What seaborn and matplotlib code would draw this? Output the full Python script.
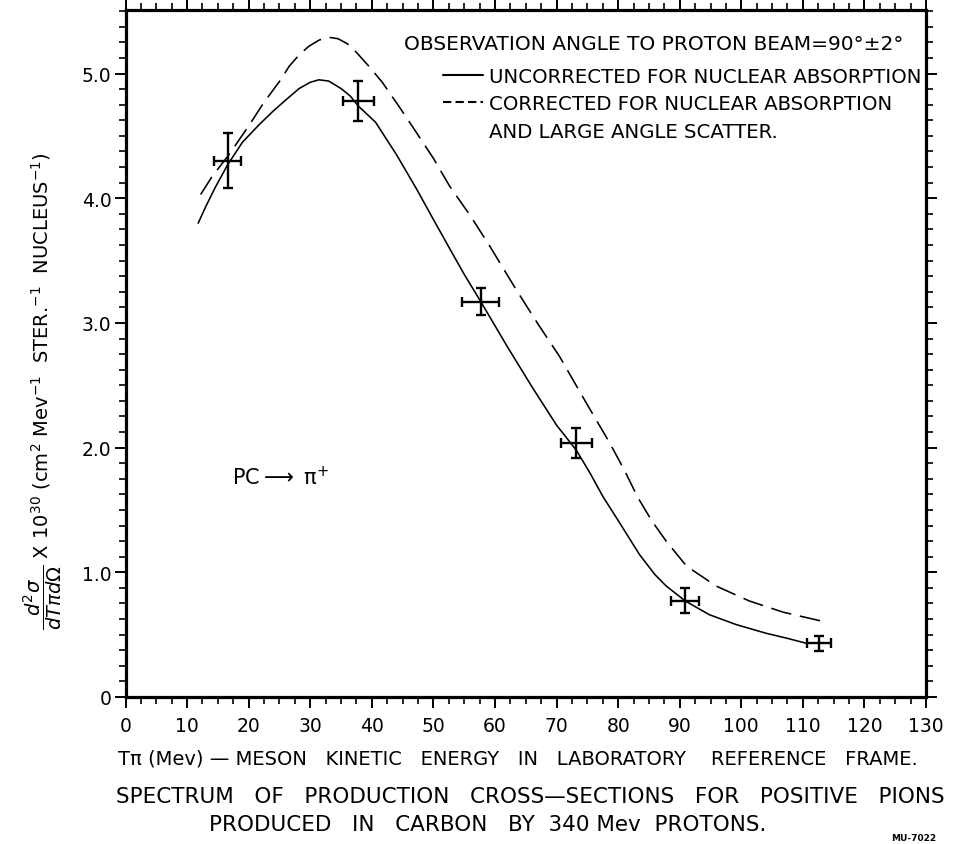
import matplotlib
matplotlib.use("Agg")
import matplotlib.pyplot as plt
from matplotlib.ticker import MultipleLocator
from matplotlib.lines import Line2D
import pandas as pd
import seaborn as sns

# Pion kinetic energy (MeV) and cross-section curves (x 10^-30 cm^2 / MeV / ster / nucleus)
uncorr_T = [11.8, 13.0, 14.5, 16.6, 19.0, 21.7, 24.0, 26.3, 28.2, 30.0, 31.4, 33.0, 35.0,
            36.5, 37.8, 40.6, 44.0, 47.2, 50.0, 52.6, 55.0, 57.7, 62.0, 66.1, 70.0, 73.2,
            75.5, 77.5, 80.2, 83.5, 86.0, 87.8, 90.9, 94.8, 99.2, 104.1, 107.5, 110.6]
uncorr_s = [3.80, 3.93, 4.08, 4.27, 4.45, 4.59, 4.70, 4.80, 4.88, 4.93, 4.95, 4.94, 4.88,
            4.82, 4.74, 4.61, 4.35, 4.08, 3.83, 3.60, 3.39, 3.17, 2.81, 2.48, 2.18, 1.98,
            1.79, 1.61, 1.40, 1.14, 0.98, 0.89, 0.77, 0.66, 0.58, 0.51, 0.47, 0.43]

corr_T = [12.2, 14.0, 16.8, 20.0, 22.5, 25.2, 26.6, 28.2, 29.8, 31.5, 33.1, 34.5, 36.0,
          37.5, 39.5, 41.7, 44.5, 47.2, 50.0, 52.6, 56.0, 59.1, 63.4, 67.0, 70.5, 74.8,
          78.6, 81.0, 83.2, 85.5, 87.8, 91.1, 95.9, 101.3, 106.8, 113.8]
corr_s = [4.03, 4.17, 4.35, 4.58, 4.77, 4.95, 5.06, 5.15, 5.22, 5.27, 5.29, 5.28, 5.24,
          5.17, 5.06, 4.93, 4.73, 4.53, 4.32, 4.10, 3.86, 3.62, 3.27, 2.99, 2.73, 2.36,
          2.04, 1.82, 1.60, 1.41, 1.25, 1.05, 0.89, 0.77, 0.68, 0.60]

# Measured points with energy and cross-section uncertainties
meas_T = [16.6, 37.8, 57.7, 73.2, 90.9, 112.6]
meas_s = [4.30, 4.78, 3.17, 2.04, 0.77, 0.43]
meas_dT = [2.2, 2.5, 3.0, 2.5, 2.3, 2.0]
meas_ds = [0.22, 0.16, 0.11, 0.12, 0.10, 0.06]

x_ticks = list(range(0, 131, 10))
y_ticks = [0, 1.0, 2.0, 3.0, 4.0, 5.0]
y_tick_labels = ["0", "1.0", "2.0", "3.0", "4.0", "5.0"]

sns.set_theme(style="ticks")
plt.rcParams["font.family"] = ["DejaVu Sans"]
plt.rcParams["mathtext.fontset"] = "dejavusans"
plt.rcParams["text.color"] = "black"
plt.rcParams["axes.labelcolor"] = "black"
plt.rcParams["xtick.color"] = "black"
plt.rcParams["ytick.color"] = "black"

fig = plt.figure(figsize=(9.79, 8.45), dpi=100)
ax = fig.add_axes([0.1282, 0.1740, 0.8177, 0.813])

uncorr = pd.DataFrame({"T": uncorr_T, "sigma": uncorr_s})
corr = pd.DataFrame({"T": corr_T, "sigma": corr_s})

sns.lineplot(data=uncorr, x="T", y="sigma", sort=False, color="black", lw=1.15, ax=ax)
sns.lineplot(data=corr, x="T", y="sigma", sort=False, color="black", lw=1.15,
             linestyle=(0, (13, 5.5)), ax=ax)

ax.errorbar(meas_T, meas_s, xerr=meas_dT, yerr=meas_ds, fmt="none", ecolor="black",
            elinewidth=1.7, capsize=3.5, capthick=1.7)

ax.set_xlim(0, 130)
ax.set_ylim(0, 5.51)
ax.set_xticks(x_ticks)
ax.set_yticks(y_ticks)
ax.set_yticklabels(y_tick_labels)
ax.xaxis.set_minor_locator(MultipleLocator(2.5))
ax.yaxis.set_minor_locator(MultipleLocator(0.125))
ax.tick_params(which="both", direction="out", top=True, right=True, colors="black",
               labelsize=13.5)
ax.tick_params(which="major", length=8, width=1.4)
ax.tick_params(which="minor", length=5, width=1.2)
ax.tick_params(axis="x", which="major", pad=6)
ax.tick_params(axis="y", which="major", pad=2)
for sp in ax.spines.values():
    sp.set_visible(True)
    sp.set_linewidth(2.3)
    sp.set_color("black")

ax.set_xlabel("")
ax.set_ylabel(r"$\dfrac{d^2\sigma}{dT\pi d\Omega}$ X 10$^{30}$ (cm$^2$ Mev$^{-1}$  "
              r"STER.$^{-1}$  NUCLEUS$^{-1}$)", fontsize=14)
ax.yaxis.set_label_coords(-0.077, 0.447)

# Reaction label inside the plot
ax.text(17.3, 1.77, r"PC$\longrightarrow$ π$^{+}$", fontsize=15, va="center", ha="left")

# Key for the two curves
fig.text(404 / 979, 1 - 44 / 845, "OBSERVATION ANGLE TO PROTON BEAM=90°±2°",
         fontsize=14.5, ha="left", va="center")
handles = [Line2D([], [], color="black", lw=1.5),
           Line2D([], [], color="black", lw=1.5, ls=(0, (4, 2))),
           Line2D([], [], color="none")]
labels = ["UNCORRECTED FOR NUCLEAR ABSORPTION",
          "CORRECTED FOR NUCLEAR ABSORPTION",
          "AND LARGE ANGLE SCATTER."]
ax.legend(handles, labels, loc="upper left", bbox_to_anchor=(0.397, 0.917),
          frameon=False, fontsize=14.2, handlelength=2.0, handletextpad=0.3,
          labelspacing=0.42, borderaxespad=0, borderpad=0)

# Axis description and caption
fig.text(118 / 979, 1 - 759 / 845,
         "Tπ (Mev) — MESON   KINETIC   ENERGY   IN   LABORATORY    REFERENCE   FRAME.",
         fontsize=14, ha="left", va="center")
fig.text(530 / 979, 1 - 797 / 845,
         "SPECTRUM   OF   PRODUCTION   CROSS—SECTIONS   FOR   POSITIVE   PIONS",
         fontsize=15.5, ha="center", va="center")
fig.text(488 / 979, 1 - 825 / 845, "PRODUCED   IN   CARBON   BY  340 Mev  PROTONS.",
         fontsize=15.5, ha="center", va="center")
fig.text(914 / 979, 1 - 839 / 845, "MU-7022", fontsize=6.5, fontweight="bold",
         ha="center", va="center")

fig.savefig("out.png", dpi=100, facecolor="white")
